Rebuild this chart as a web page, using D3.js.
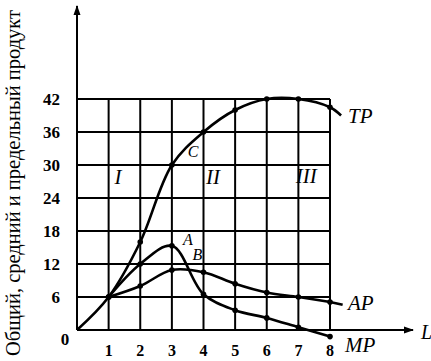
<!DOCTYPE html>
<html>
<head>
<meta charset="utf-8">
<script src="https://d3js.org/d3.v7.min.js"></script>
<style>
html, body { margin: 0; padding: 0; background: #fff; }
.grid line { stroke: #000; stroke-width: 2; }
.curve { fill: none; stroke: #000; stroke-width: 2.6; }
</style>
</head>
<body>
<script>
// data
var labour = [0, 1, 2, 3, 4, 5, 6, 7, 8];
var tpL = [0, 1, 2, 3, 4, 5, 6, 7, 8, 8.35];
var tpValues = [0, 6, 16, 30, 36, 40, 42, 42, 40.5, 39];
var apL = [1, 2, 3, 4, 5, 6, 7, 8, 8.4];
var apValues = [6, 8, 10.9, 10.5, 8.4, 6.8, 6, 5.1, 4.6];
var mpL = [1, 2, 3, 4, 5, 6, 7, 8];
var mpValues = [6, 12, 15.3, 6.5, 3.6, 2.2, 0.5, -1.2];
var yTicks = [0, 6, 12, 18, 24, 30, 36, 42];
var xTicks = [1, 2, 3, 4, 5, 6, 7, 8];
var stageLabels = ["I", "II", "III"];
var stageL = [1.3, 4.3, 7.25];
var stageY = [26.5, 26.5, 26.8];
var pointLabels = ["C", "A", "B"];
var pointL = [3.5, 3.35, 3.65];
var pointY = [31.5, 15.5, 12.8];
var yTitle = "Общий, средний и предельный продукт";

var width = 431, height = 361;
var serif = "'Liberation Serif', 'Times New Roman', 'DejaVu Serif', serif";

var svg = d3.select("body").append("svg")
    .attr("width", width)
    .attr("height", height)
    .attr("font-family", serif);

var x = d3.scaleLinear().domain([0, 8]).range([77, 330]);
var y = d3.scaleLinear().domain([0, 42]).range([330, 99]);

// grid
var grid = svg.append("g").attr("class", "grid");
grid.selectAll(".gh").data(yTicks.slice(1)).enter().append("line")
    .attr("x1", x(0)).attr("x2", x(8))
    .attr("y1", d => y(d)).attr("y2", d => y(d));
grid.selectAll(".gv").data(xTicks).enter().append("line")
    .attr("x1", d => x(d)).attr("x2", d => x(d))
    .attr("y1", y(0)).attr("y2", y(42));

// axes with arrows
svg.append("defs").append("marker")
    .attr("id", "arr")
    .attr("viewBox", "0 0 10 10")
    .attr("refX", 9).attr("refY", 5)
    .attr("markerWidth", 5).attr("markerHeight", 5)
    .attr("orient", "auto")
    .append("path").attr("d", "M0,1.5L10,5L0,8.5Z").attr("fill", "#000");

svg.append("line")
    .attr("x1", x(0)).attr("y1", y(0))
    .attr("x2", 413).attr("y2", y(0))
    .attr("stroke", "#000").attr("stroke-width", 2)
    .attr("marker-end", "url(#arr)");
svg.append("line")
    .attr("x1", x(0)).attr("y1", y(0))
    .attr("x2", x(0)).attr("y2", 6)
    .attr("stroke", "#000").attr("stroke-width", 2)
    .attr("marker-end", "url(#arr)");

// tick labels
svg.selectAll(".tick-y").data(yTicks.slice(1)).enter().append("text")
    .attr("x", 60).attr("y", d => y(d) + 6)
    .attr("text-anchor", "end")
    .attr("font-size", 17).attr("font-weight", "bold")
    .text(d => d);
svg.append("text")
    .attr("x", 65).attr("y", 345).attr("text-anchor", "middle")
    .attr("font-size", 17).attr("font-weight", "bold")
    .text("0");
svg.selectAll(".tick-x").data(xTicks).enter().append("text")
    .attr("x", d => x(d)).attr("y", 356)
    .attr("text-anchor", "middle")
    .attr("font-size", 16).attr("font-weight", "bold")
    .text(d => d);

// curves
var line = d3.line()
    .x(d => x(d[0]))
    .y(d => y(d[1]))
    .curve(d3.curveCatmullRom.alpha(0.5));

var series = [
    d3.zip(tpL, tpValues),
    d3.zip(apL, apValues),
    d3.zip(mpL, mpValues)
];
svg.selectAll(".curve").data(series).enter().append("path")
    .attr("class", "curve")
    .attr("d", line);

// dots at integer L
series.forEach(function(s) {
    svg.selectAll(null).data(s.filter(d => labour.indexOf(d[0]) >= 0 && d[0] > 0)).enter()
        .append("circle")
        .attr("cx", d => x(d[0])).attr("cy", d => y(d[1]))
        .attr("r", 2.8).attr("fill", "#000");
});

// curve names
var names = ["TP", "AP", "MP"];
var nameX = [348, 348, 345];
var nameY = [123, 310, 352];
svg.selectAll(".name").data(names).enter().append("text")
    .attr("x", (d, i) => nameX[i]).attr("y", (d, i) => nameY[i])
    .attr("font-size", 21).attr("font-style", "italic")
    .text(d => d);
svg.append("text")
    .attr("x", 421).attr("y", 339).attr("font-size", 20).attr("font-style", "italic")
    .text("L");

// stages
svg.selectAll(".stage").data(stageLabels).enter().append("text")
    .attr("x", (d, i) => x(stageL[i])).attr("y", (d, i) => y(stageY[i]))
    .attr("text-anchor", "middle")
    .attr("font-size", 21).attr("font-style", "italic")
    .text(d => d);

// point labels
svg.selectAll(".pt").data(pointLabels).enter().append("text")
    .attr("x", (d, i) => x(pointL[i])).attr("y", (d, i) => y(pointY[i]))
    .attr("font-size", 16).attr("font-style", "italic")
    .text(d => d);

// y title, squeezed so the whole text stays on the page
svg.append("text")
    .attr("transform", "translate(20,356) rotate(-90)")
    .attr("font-size", 21)
    .attr("textLength", 346)
    .attr("lengthAdjust", "spacingAndGlyphs")
    .text(yTitle);
</script>
</body>
</html>
